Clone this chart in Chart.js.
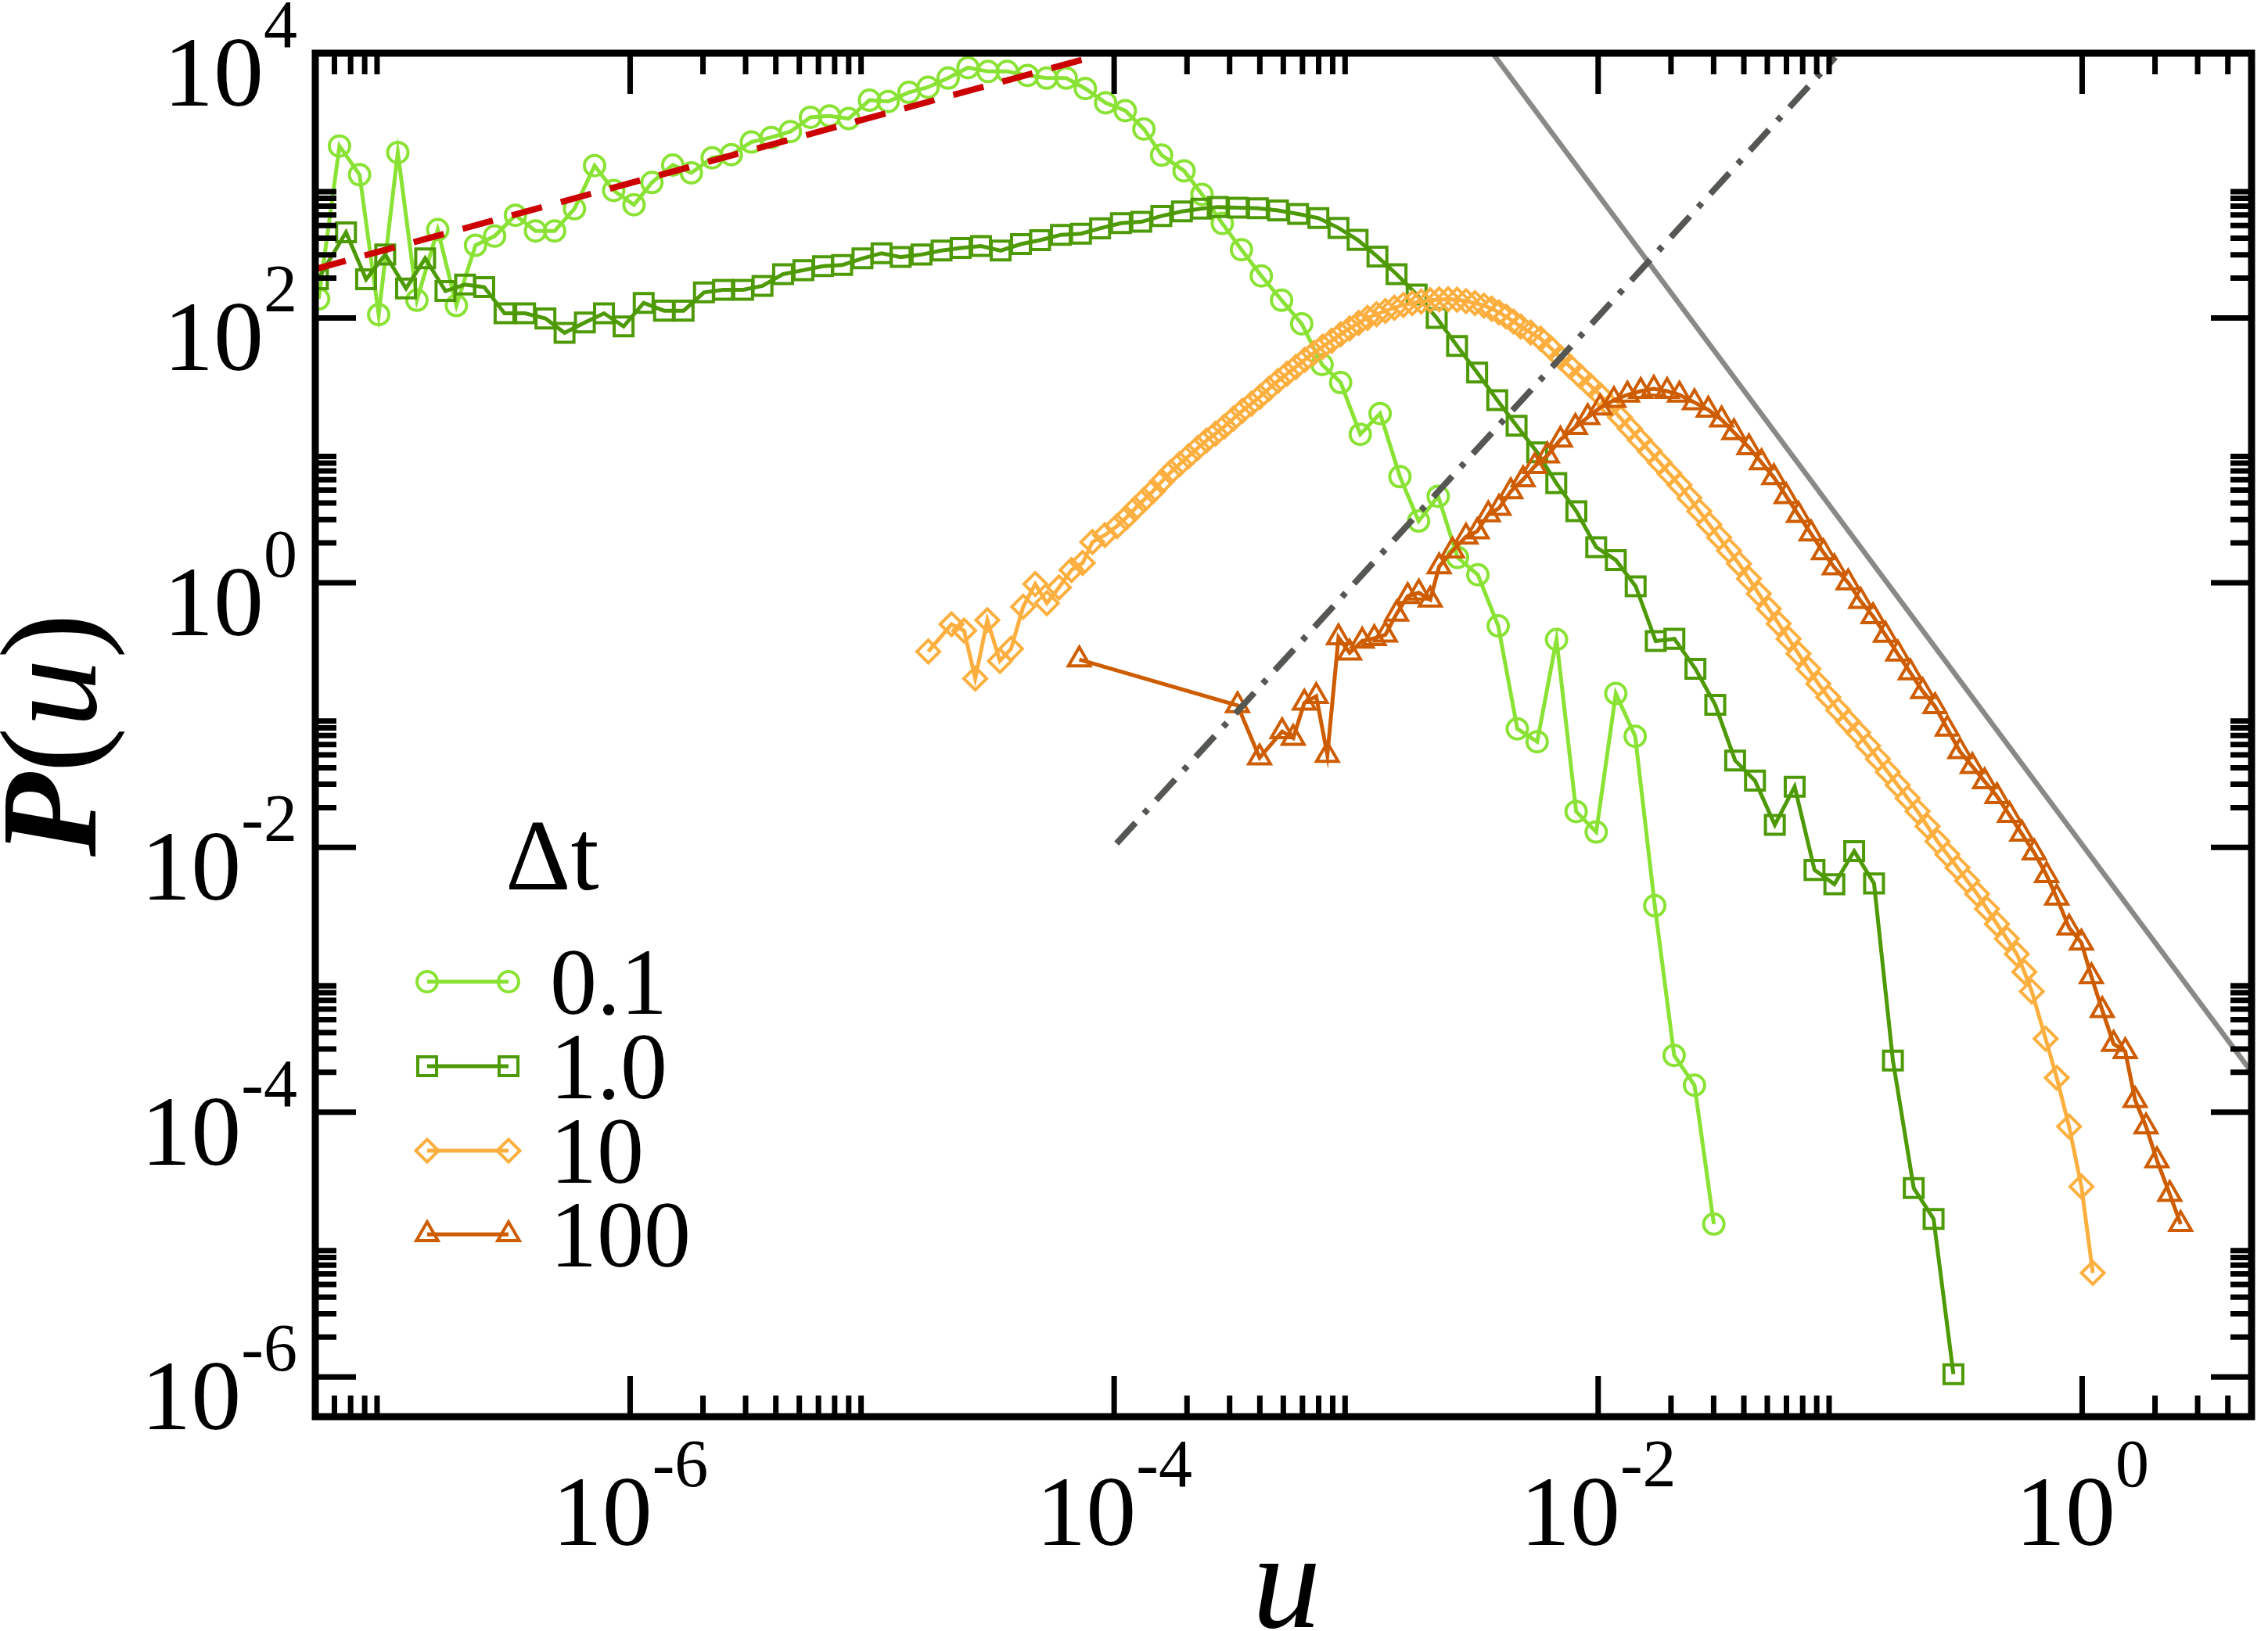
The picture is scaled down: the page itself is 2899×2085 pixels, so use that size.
<!DOCTYPE html>
<html>
<head>
<meta charset="utf-8">
<script src="https://cdn.jsdelivr.net/npm/chart.js@4.4.1/dist/chart.umd.min.js"></script>
<style>
html,body{margin:0;padding:0;background:#ffffff;}
canvas{display:block;}
</style>
</head>
<body>
<canvas id="c" width="2899" height="2085" style="width:2899px;height:2085px"></canvas>
<script>
// ---------------- DATA (log10 values) ----------------
const seriesLabels = ['0.1', '1.0', '10', '100'];

const logU_dt01 = [-7.287,-7.201,-7.118,-7.039,-6.960,-6.881,-6.795,-6.718,-6.639,-6.560,-6.474,-6.391,-6.312,-6.230,-6.147,-6.068,-5.984,-5.910,-5.824,-5.747,-5.661,-5.582,-5.499,-5.417,-5.338,-5.255,-5.176,-5.097,-5.011,-4.934,-4.848,-4.769,-4.686,-4.604,-4.521,-4.442,-4.358,-4.279,-4.198,-4.119,-4.035,-3.954,-3.877,-3.804,-3.711,-3.637,-3.553,-3.474,-3.392,-3.308,-3.225,-3.141,-3.064,-2.983,-2.901,-2.819,-2.742,-2.661,-2.581,-2.497,-2.413,-2.334,-2.252,-2.172,-2.091,-2.008,-1.927,-1.847,-1.766,-1.686,-1.602,-1.522];
const logP_dt01 = [2.144,3.299,3.082,2.025,3.250,2.134,2.667,2.094,2.549,2.618,2.776,2.657,2.657,2.825,3.151,2.963,2.855,3.023,3.155,3.096,3.210,3.234,3.329,3.364,3.408,3.516,3.526,3.506,3.645,3.635,3.704,3.743,3.812,3.891,3.862,3.862,3.832,3.812,3.812,3.733,3.625,3.566,3.427,3.230,3.111,2.934,2.714,2.516,2.318,2.134,1.956,1.648,1.512,1.121,1.278,0.801,0.466,0.653,0.191,0.060,-0.326,-1.104,-1.201,-0.429,-1.729,-1.883,-0.837,-1.160,-2.440,-3.571,-3.796,-4.845];

const logU_dt1 = [-7.290,-7.174,-7.091,-7.012,-6.926,-6.847,-6.763,-6.682,-6.603,-6.519,-6.434,-6.350,-6.271,-6.187,-6.108,-6.027,-5.944,-5.860,-5.779,-5.695,-5.616,-5.533,-5.453,-5.368,-5.284,-5.203,-5.124,-5.040,-4.961,-4.882,-4.796,-4.713,-4.634,-4.550,-4.469,-4.385,-4.306,-4.220,-4.137,-4.058,-3.972,-3.888,-3.805,-3.720,-3.640,-3.572,-3.489,-3.406,-3.323,-3.240,-3.156,-3.073,-2.994,-2.912,-2.833,-2.750,-2.667,-2.583,-2.500,-2.417,-2.337,-2.252,-2.173,-2.090,-2.008,-1.927,-1.845,-1.762,-1.685,-1.598,-1.516,-1.434,-1.352,-1.270,-1.188,-1.106,-1.024,-0.942,-0.860,-0.782,-0.696,-0.614,-0.532];
const logP_dt1 = [2.292,2.647,2.292,2.479,2.223,2.450,2.203,2.252,2.233,2.035,2.035,1.996,1.887,1.966,2.035,1.936,2.114,2.055,2.055,2.193,2.213,2.213,2.242,2.331,2.361,2.391,2.400,2.450,2.489,2.460,2.479,2.509,2.529,2.543,2.509,2.558,2.588,2.628,2.637,2.677,2.716,2.726,2.770,2.805,2.825,2.838,2.833,2.828,2.812,2.786,2.754,2.680,2.590,2.463,2.331,2.177,2.000,1.789,1.587,1.379,1.186,0.985,0.752,0.540,0.268,0.171,-0.027,-0.441,-0.424,-0.651,-0.923,-1.343,-1.495,-1.829,-1.541,-2.170,-2.278,-2.028,-2.272,-3.610,-4.573,-4.806,-5.979];

const logU_dt10 = [-4.768,-4.672,-4.620,-4.574,-4.524,-4.472,-4.426,-4.376,-4.326,-4.278,-4.228,-4.176,-4.130,-4.090,-4.038,-3.988,-3.951,-3.914,-3.877,-3.840,-3.803,-3.766,-3.729,-3.692,-3.655,-3.618,-3.581,-3.544,-3.507,-3.470,-3.433,-3.397,-3.360,-3.323,-3.286,-3.249,-3.212,-3.175,-3.138,-3.101,-3.064,-3.027,-2.990,-2.953,-2.916,-2.879,-2.842,-2.805,-2.768,-2.731,-2.694,-2.657,-2.620,-2.583,-2.546,-2.509,-2.472,-2.440,-2.410,-2.380,-2.350,-2.320,-2.279,-2.238,-2.197,-2.156,-2.115,-2.074,-2.033,-1.992,-1.951,-1.910,-1.869,-1.828,-1.787,-1.746,-1.705,-1.664,-1.623,-1.582,-1.541,-1.500,-1.459,-1.418,-1.377,-1.336,-1.295,-1.254,-1.213,-1.172,-1.131,-1.090,-1.049,-1.008,-0.967,-0.926,-0.885,-0.844,-0.803,-0.762,-0.721,-0.680,-0.639,-0.598,-0.557,-0.515,-0.475,-0.434,-0.393,-0.352,-0.311,-0.270,-0.239,-0.208,-0.151,-0.105,-0.054,-0.003,0.044];
const logP_dt10 = [-0.520,-0.314,-0.362,-0.724,-0.283,-0.591,-0.499,-0.182,-0.010,-0.155,-0.036,0.096,0.149,0.307,0.360,0.427,0.490,0.559,0.625,0.691,0.765,0.836,0.897,0.956,1.017,1.075,1.126,1.180,1.240,1.299,1.352,1.405,1.466,1.524,1.578,1.630,1.684,1.735,1.783,1.828,1.876,1.921,1.962,2.000,2.028,2.053,2.077,2.098,2.112,2.124,2.134,2.140,2.141,2.138,2.127,2.112,2.093,2.070,2.042,2.010,1.973,1.935,1.890,1.844,1.775,1.702,1.631,1.560,1.490,1.419,1.335,1.249,1.164,1.078,0.993,0.908,0.823,0.738,0.640,0.540,0.440,0.341,0.242,0.143,0.030,-0.084,-0.197,-0.310,-0.424,-0.537,-0.651,-0.764,-0.865,-0.963,-1.050,-1.133,-1.232,-1.331,-1.430,-1.529,-1.628,-1.727,-1.840,-1.954,-2.053,-2.153,-2.252,-2.351,-2.465,-2.578,-2.690,-2.805,-2.940,-3.088,-3.445,-3.740,-4.108,-4.562,-5.214];

const logU_dt100 = [-4.144,-3.490,-3.399,-3.306,-3.260,-3.214,-3.165,-3.119,-3.073,-3.027,-2.975,-2.925,-2.879,-2.833,-2.787,-2.741,-2.694,-2.657,-2.602,-2.546,-2.500,-2.454,-2.410,-2.361,-2.310,-2.262,-2.210,-2.156,-2.094,-2.043,-1.992,-1.935,-1.879,-1.824,-1.770,-1.715,-1.664,-1.602,-1.545,-1.490,-1.439,-1.377,-1.325,-1.274,-1.223,-1.172,-1.120,-1.069,-1.024,-0.967,-0.915,-0.864,-0.813,-0.762,-0.710,-0.659,-0.608,-0.557,-0.505,-0.454,-0.403,-0.352,-0.300,-0.249,-0.198,-0.147,-0.105,-0.054,-0.003,0.038,0.083,0.130,0.178,0.219,0.264,0.309,0.362,0.407];
const logP_dt100 = [-0.581,-0.927,-1.322,-1.124,-1.174,-0.907,-0.858,-1.302,-0.414,-0.530,-0.440,-0.420,-0.393,-0.235,-0.102,-0.076,-0.129,0.122,0.241,0.347,0.387,0.515,0.563,0.690,0.780,0.880,0.960,1.080,1.175,1.249,1.322,1.379,1.419,1.447,1.464,1.447,1.419,1.362,1.306,1.232,1.135,1.022,0.908,0.795,0.653,0.511,0.370,0.228,0.115,0.001,-0.140,-0.254,-0.395,-0.537,-0.679,-0.820,-0.934,-1.104,-1.274,-1.387,-1.501,-1.614,-1.756,-1.898,-2.040,-2.210,-2.380,-2.607,-2.720,-2.975,-3.230,-3.485,-3.541,-3.910,-4.109,-4.364,-4.619,-4.846];

// reference power laws (end points, log10)
const logU_slopeHalf = [-7.30, -4.108];
const logP_slopeHalf = [2.37, 3.962];
const logU_slopeMinus = [-2.48, 0.75];
const logP_slopeMinus = [4.108, -3.82];
const logU_slopeTwo = [-3.99, -1.02];
const logP_slopeTwo = [-1.97, 3.97];

// axis ranges and tick labels
const xRangeLog = [-7.301, 0.700];
const yRangeLog = [-6.30, 4.0];
const xTickExponents = [-6, -4, -2, 0];
const yTickExponents = [4, 2, 0, -2, -4, -6];
const tickDecades = [-8, -6, -4, -2, 0, 2, 4];
const minorMultipliers = [2, 3, 4, 5, 6, 7, 8, 9];

// --------------------------------------------------------------------------
function pts(lu, lp) { return lu.map((v, i) => ({ x: Math.pow(10, v), y: Math.pow(10, lp[i]) })); }

const COLORS = ['#8ae234', '#4e9a06', '#fcaf3e', '#ce5c00'];
const STYLES = [
  { pointStyle: 'circle', radius: 13 },
  { pointStyle: 'rect', radius: 17 },
  { pointStyle: 'rectRot', radius: 14.5 },
  { pointStyle: 'triangle', radius: 16 }
];
const dataPairs = [[logU_dt01, logP_dt01], [logU_dt1, logP_dt1], [logU_dt10, logP_dt10], [logU_dt100, logP_dt100]];

const datasets = dataPairs.map((p, i) => ({
  label: seriesLabels[i],
  data: pts(p[0], p[1]),
  borderColor: COLORS[i],
  borderWidth: 5,
  pointStyle: STYLES[i].pointStyle,
  pointRadius: STYLES[i].radius,
  pointHoverRadius: STYLES[i].radius,
  pointBorderWidth: 4,
  pointBorderColor: COLORS[i],
  pointBackgroundColor: 'rgba(0,0,0,0)',
  fill: false,
  tension: 0,
  clip: 0,
  order: 10 - i
}));

datasets.push({
  label: 'slope 1/2', data: pts(logU_slopeHalf, logP_slopeHalf),
  borderColor: '#cc0000', borderWidth: 8, borderDash: [40, 25], borderCapStyle: 'butt',
  pointRadius: 0, fill: false, clip: 0, order: 3
});
datasets.push({
  label: 'slope -5/2', data: pts(logU_slopeMinus, logP_slopeMinus),
  borderColor: '#888a85', borderWidth: 6.5, pointRadius: 0, fill: false, clip: 0, order: 2
});
datasets.push({
  label: 'slope 2', data: pts(logU_slopeTwo, logP_slopeTwo),
  borderColor: '#555753', borderWidth: 8, borderDash: [36, 16, 7, 16], borderCapStyle: 'butt',
  pointRadius: 0, fill: false, clip: 0, order: 1
});

const SERIF = "'Liberation Serif', 'Times New Roman', 'DejaVu Serif', serif";

function supLabel(ctx, base, sup, x, baseline, align, baseSize, supSize, supRise) {
  ctx.font = baseSize + 'px ' + SERIF;
  const wb = ctx.measureText(base).width;
  ctx.font = supSize + 'px ' + SERIF;
  const ws = ctx.measureText(sup).width;
  const total = wb + ws;
  let left = x;
  if (align === 'center') left = x - total / 2;
  else if (align === 'right') left = x - total;
  ctx.textAlign = 'left';
  ctx.textBaseline = 'alphabetic';
  ctx.font = baseSize + 'px ' + SERIF;
  ctx.fillText(base, left, baseline);
  ctx.font = supSize + 'px ' + SERIF;
  ctx.fillText(sup, left + wb, baseline - supRise);
}

function drawMarker(ctx, style, radius, x, y) {
  if (Chart.helpers && Chart.helpers.drawPoint) {
    Chart.helpers.drawPoint(ctx, { pointStyle: style, rotation: 0, radius: radius, borderWidth: 4 }, x, y);
  }
}

const decorPlugin = {
  id: 'decor',
  afterDraw(chart) {
    const ctx = chart.ctx, xs = chart.scales.x, ys = chart.scales.y, a = chart.chartArea;
    ctx.save();
    const inRange = (lv, r) => lv >= r[0] - 1e-6 && lv <= r[1] + 1e-6;
    const majors = [], minors = [];
    tickDecades.forEach(e => {
      majors.push(e);
      minorMultipliers.forEach(k => minors.push(e + Math.log10(k)));
    });
    const MAJ = 52, MIN = 27;
    ctx.strokeStyle = '#000';
    ctx.lineWidth = 7;
    ctx.lineCap = 'butt';
    function xt(lv, L) {
      const px = xs.getPixelForValue(Math.pow(10, lv));
      ctx.beginPath();
      ctx.moveTo(px, a.bottom); ctx.lineTo(px, a.bottom - L);
      ctx.moveTo(px, a.top); ctx.lineTo(px, a.top + L);
      ctx.stroke();
    }
    function yt(lv, L) {
      const py = ys.getPixelForValue(Math.pow(10, lv));
      ctx.beginPath();
      ctx.moveTo(a.left, py); ctx.lineTo(a.left + L, py);
      ctx.moveTo(a.right, py); ctx.lineTo(a.right - L, py);
      ctx.stroke();
    }
    majors.forEach(lv => { if (inRange(lv, xRangeLog)) xt(lv, MAJ); if (inRange(lv, yRangeLog)) yt(lv, MAJ); });
    minors.forEach(lv => { if (inRange(lv, xRangeLog)) xt(lv, MIN); if (inRange(lv, yRangeLog)) yt(lv, MIN); });

    // frame
    ctx.lineWidth = 9;
    ctx.strokeRect(a.left, a.top, a.right - a.left, a.bottom - a.top);

    // tick labels
    ctx.fillStyle = '#000';
    xTickExponents.forEach(e => {
      const px = xs.getPixelForValue(Math.pow(10, e));
      supLabel(ctx, '10', String(e), px, 1975, 'center', 128, 86, 75);
    });
    yTickExponents.forEach(e => {
      const py = ys.getPixelForValue(Math.pow(10, e));
      supLabel(ctx, '10', String(e), 380, py + 67, 'right', 128, 86, 75);
    });

    // x title
    ctx.font = 'italic 175px ' + SERIF;
    ctx.textAlign = 'center';
    ctx.textBaseline = 'alphabetic';
    ctx.fillText('u', (a.left + a.right) / 2 + 4, 2080);

    // y title  P(u)
    ctx.save();
    ctx.translate(122, (a.top + a.bottom) / 2);
    ctx.rotate(-Math.PI / 2);
    const parts = [
      { t: 'P', f: 'italic bold 175px ' + SERIF },
      { t: '(', f: '175px ' + SERIF },
      { t: 'u', f: 'italic 175px ' + SERIF },
      { t: ')', f: '175px ' + SERIF }
    ];
    let tw = 0;
    parts.forEach(p => { ctx.font = p.f; p.w = ctx.measureText(p.t).width; tw += p.w; });
    let cx = -tw / 2;
    ctx.textAlign = 'left';
    parts.forEach(p => { ctx.font = p.f; ctx.fillText(p.t, cx, 0); cx += p.w; });
    ctx.restore();

    // legend
    ctx.fillStyle = '#000';
    ctx.textAlign = 'left';
    ctx.font = '130px ' + SERIF;
    ctx.fillText('\u0394t', 646, 1137);
    const legendY = [1255, 1363, 1471, 1578];
    for (let i = 0; i < 4; i++) {
      const y = legendY[i];
      ctx.strokeStyle = COLORS[i];
      ctx.lineWidth = 5;
      ctx.beginPath(); ctx.moveTo(546, y); ctx.lineTo(650, y); ctx.stroke();
      ctx.fillStyle = 'rgba(0,0,0,0)';
      ctx.lineWidth = 4;
      drawMarker(ctx, STYLES[i].pointStyle, STYLES[i].radius, 546, y);
      drawMarker(ctx, STYLES[i].pointStyle, STYLES[i].radius, 650, y);
      ctx.fillStyle = '#000';
      ctx.font = '120px ' + SERIF;
      ctx.fillText(seriesLabels[i], 703, y + 41);
    }
    ctx.restore();
  }
};

new Chart(document.getElementById('c').getContext('2d'), {
  type: 'line',
  data: { datasets: datasets },
  options: {
    responsive: false,
    animation: false,
    devicePixelRatio: 1,
    events: [],
    layout: { padding: { left: 403, right: 5, top: 68, bottom: 274 } },
    plugins: { legend: { display: false }, tooltip: { enabled: false }, title: { display: false } },
    scales: {
      x: { type: 'logarithmic', display: false, min: Math.pow(10, xRangeLog[0]), max: Math.pow(10, xRangeLog[1]) },
      y: { type: 'logarithmic', display: false, min: Math.pow(10, yRangeLog[0]), max: Math.pow(10, yRangeLog[1]) }
    }
  },
  plugins: [decorPlugin]
});
</script>
</body>
</html>
